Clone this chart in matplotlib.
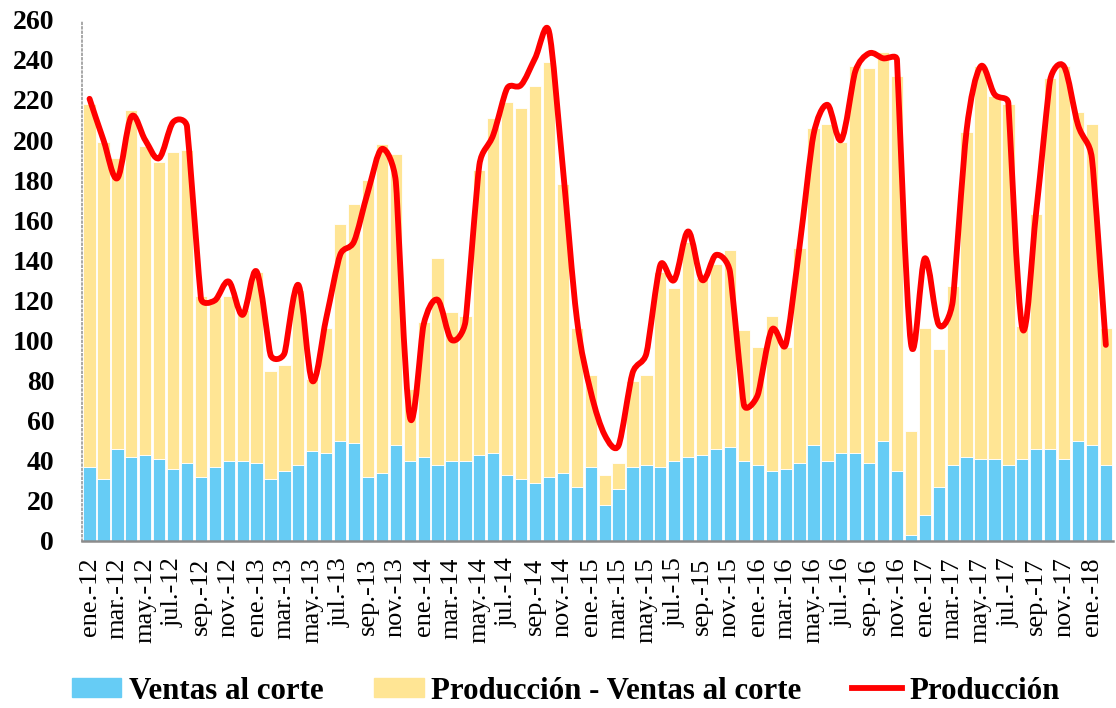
import numpy as np
import matplotlib.pyplot as plt
from matplotlib.path import Path
from matplotlib.patches import PathPatch, Patch
from matplotlib.lines import Line2D

plt.rcParams['font.family'] = ['Liberation Serif', 'DejaVu Serif']

meses = ['ene.', 'feb.', 'mar.', 'abr.', 'may.', 'jun.',
         'jul.', 'ago.', 'sep.', 'oct.', 'nov.', 'dic.']
fechas = [m + '-' + str(a) for a in range(12, 19) for m in meses][:74]

# Ventas al corte (barra azul)
ventas = [37, 31, 46, 42, 43, 41, 36, 39, 32, 37, 40, 40,
          39, 31, 35, 38, 45, 44, 50, 49, 32, 34, 48, 40,
          42, 38, 40, 40, 43, 44, 33, 31, 29, 32, 34, 27,
          37, 18, 26, 37, 38, 37, 40, 42, 43, 46, 47, 40,
          38, 35, 36, 39, 48, 40, 44, 44, 39, 50, 35, 3,
          13, 27, 38, 42, 41, 41, 38, 41, 46, 46, 41, 50,
          48, 38]

# altura total de la barra apilada
total_barra = [218, 199, 191, 215, 197, 189, 194, 195, 122, 121, 122, 115,
               134, 85, 88, 125, 81, 106, 158, 168, 180, 198, 193, 76,
               109, 141, 114, 112, 185, 211, 219, 216, 227, 239, 178, 106,
               83, 33, 39, 80, 83, 134, 126, 149, 131, 138, 145, 105,
               97, 112, 97, 146, 206, 208, 199, 237, 236, 244, 232, 55,
               106, 96, 127, 204, 237, 222, 218, 107, 163, 231, 237, 214,
               208, 106]

# Producción (línea roja)
produccion = [220.6, 200, 181, 211.7, 200, 191, 208.9, 206.8, 121, 120, 129.4, 112.8,
              134.4, 92.8, 93.6, 127.7, 79.8, 111.1, 142.7, 149.4, 174.3, 195.6, 179.3, 62,
              108, 120.3, 100.3, 109.4, 187.6, 202.6, 225.9, 227.5, 240.8, 254.2, 186, 111.1,
              74.5, 52.9, 47.6, 83.7, 93.6, 137.7, 130.2, 154.4, 130.2, 142.7, 134.4, 67.9,
              72.9, 105.3, 97.8, 147, 202.6, 217.6, 200.1, 234.2, 243.3, 240.8, 240, 98.6,
              141, 107.8, 119.4, 205, 236.7, 222.9, 218.4, 106.1, 164.3, 230, 236.7, 207.6,
              190.9, 97.8]

ventas = np.array(ventas, dtype=float)
diferencia = np.array(total_barra, dtype=float) - ventas
produccion = np.array(produccion)
x = np.arange(len(ventas))


def curva_suave(ax, xs, ys):
    # suavizado parecido al de Excel: Bezier con tangentes Catmull-Rom,
    # limitando las asas en pixeles para que no se pase de largo
    p = ax.transData.transform(np.column_stack([xs, ys]))
    n = len(p)
    asa_in = np.zeros_like(p)
    asa_out = np.zeros_like(p)
    for i in range(n):
        a = p[i - 1] if i > 0 else p[i]
        c = p[i + 1] if i < n - 1 else p[i]
        t = c - a
        d02 = np.hypot(*t)
        if d02 == 0:
            asa_in[i] = asa_out[i] = p[i]
            continue
        f = 1 / 6
        if i > 0:
            f = min(f, np.hypot(*(p[i] - a)) / (2 * d02))
        if i < n - 1:
            f = min(f, np.hypot(*(c - p[i])) / (2 * d02))
        asa_in[i] = p[i] - f * t
        asa_out[i] = p[i] + f * t
    verts = [p[0]]
    codes = [Path.MOVETO]
    for i in range(n - 1):
        verts += [asa_out[i], asa_in[i + 1], p[i + 1]]
        codes += [Path.CURVE4] * 3
    verts = ax.transData.inverted().transform(np.array(verts))
    return Path(verts, codes)


fig = plt.figure(figsize=(11.16, 7.08), dpi=100)
ax = fig.add_axes([0.0735, 0.236, 0.924, 0.736])

azul = '#66CCF5'
amarillo = '#FFE594'
rojo = '#FF0000'

ax.set_xlim(-0.54, 73.53)
ax.set_ylim(0, 260)

ax.bar(x, ventas, width=0.88, color=azul, edgecolor='white', linewidth=0.6)
ax.bar(x, diferencia, width=0.88, bottom=ventas, color=amarillo,
       edgecolor='white', linewidth=0.6)
ax.add_patch(PathPatch(curva_suave(ax, x, produccion), facecolor='none',
                       edgecolor=rojo, linewidth=4.2, capstyle='round',
                       joinstyle='round', zorder=3))

ax.set_yticks(range(0, 261, 20))
ax.set_xticks(x[::2])
ax.set_xticklabels(fechas[::2], rotation=90, fontsize=19)
ax.tick_params(axis='x', length=0, pad=12)
ax.tick_params(axis='y', length=0, pad=20, labelsize=20)
for t in ax.get_yticklabels():
    t.set_fontweight('bold')

for s in ['top', 'right']:
    ax.spines[s].set_visible(False)
ax.spines['left'].set_linestyle(':')
ax.spines['left'].set_color('#999999')
ax.spines['left'].set_linewidth(1.2)
ax.spines['bottom'].set_color('#8c8c8c')
ax.spines['bottom'].set_linewidth(1.8)

handles = [Patch(color=azul), Patch(color=amarillo),
           Line2D([], [], color=rojo, linewidth=4.2)]
labels = ['Ventas al corte', 'Producción - Ventas al corte', 'Producción']
fig.legend(handles, labels, loc='center', bbox_to_anchor=(0.507, 0.024), ncol=3,
           frameon=False, prop={'weight': 'bold', 'size': 22.2},
           handlelength=1.6, handleheight=0.55, handletextpad=0.25,
           columnspacing=1.65, borderpad=0)

fig.savefig('out.png', dpi=100)
